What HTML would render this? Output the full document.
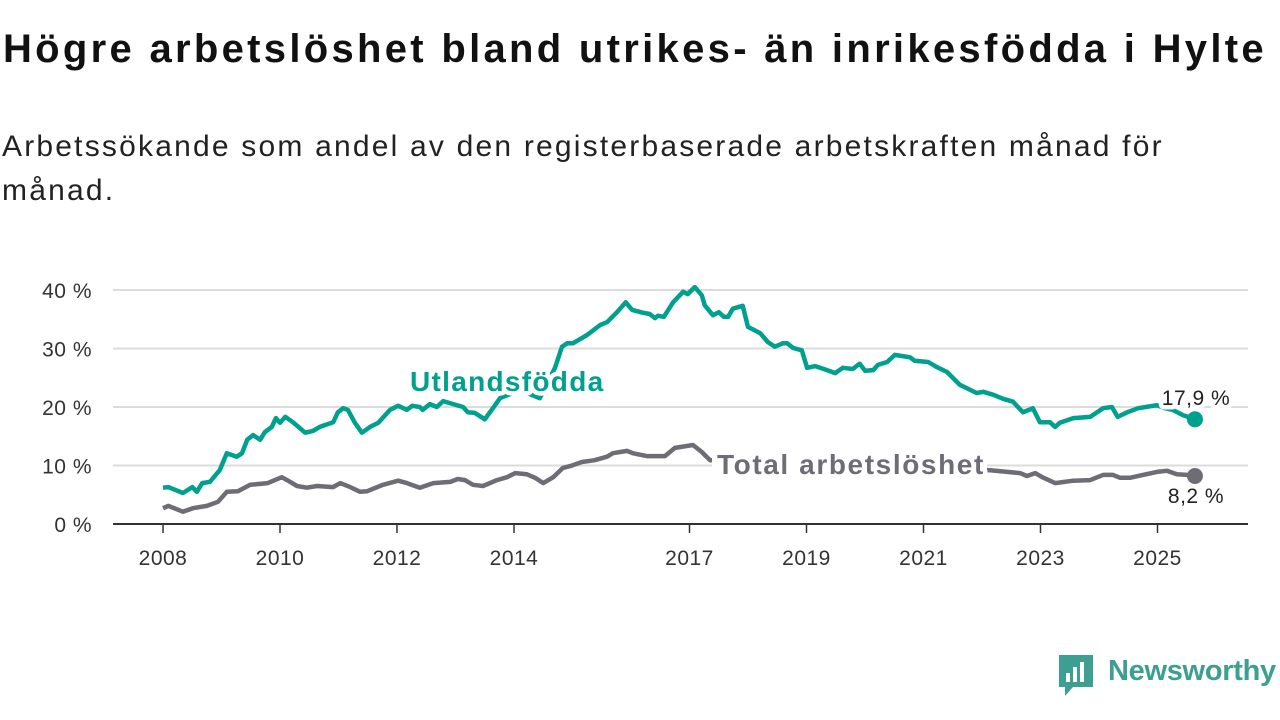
<!DOCTYPE html>
<html><head><meta charset="utf-8">
<style>
html,body{margin:0;padding:0;background:#fff;width:1280px;height:720px;overflow:hidden;font-family:"Liberation Sans",sans-serif;}
#title{position:absolute;left:3px;top:27px;font-size:40px;font-weight:bold;color:#111;letter-spacing:3.3px;margin:0;white-space:nowrap}
#subtitle{position:absolute;left:2px;top:125px;font-size:30px;line-height:44px;letter-spacing:2.2px;color:#222;width:1200px;margin:0}
svg{position:absolute;left:0;top:0}
</style></head><body>
<h1 id="title">Högre arbetslöshet bland utrikes- än inrikesfödda i Hylte</h1>
<p id="subtitle">Arbetssökande som andel av den registerbaserade arbetskraften månad för månad.</p>
<svg id="chart" width="1280" height="720"></svg>
<script>
const yTicks=[0,10,20,30,40];
const yTickLabels=["0 %","10 %","20 %","30 %","40 %"];
const xTicks=[2008,2010,2012,2014,2017,2019,2021,2023,2025];
const xTickLabels=["2008","2010","2012","2014","2017","2019","2021","2023","2025"];
const foreignDates=[2008.00,2008.09,2008.34,2008.50,2008.58,2008.67,2008.80,2008.97,2009.09,2009.26,2009.35,2009.44,2009.54,2009.66,2009.74,2009.86,2009.93,2010.00,2010.09,2010.22,2010.43,2010.56,2010.68,2010.91,2010.99,2011.08,2011.16,2011.28,2011.40,2011.54,2011.68,2011.88,2012.02,2012.17,2012.26,2012.39,2012.44,2012.56,2012.68,2012.79,2012.96,2013.13,2013.21,2013.33,2013.50,2013.64,2013.76,2014.10,2014.44,2014.70,2014.82,2014.91,2015.01,2015.25,2015.47,2015.59,2015.76,2015.91,2016.02,2016.21,2016.32,2016.41,2016.46,2016.56,2016.72,2016.89,2016.97,2017.09,2017.21,2017.26,2017.40,2017.50,2017.59,2017.66,2017.74,2017.91,2018.00,2018.21,2018.34,2018.46,2018.60,2018.67,2018.77,2018.92,2019.01,2019.15,2019.35,2019.49,2019.62,2019.79,2019.91,2020.00,2020.14,2020.22,2020.38,2020.51,2020.77,2020.85,2021.08,2021.23,2021.40,2021.62,2021.91,2022.02,2022.19,2022.36,2022.53,2022.70,2022.87,2022.99,2023.16,2023.25,2023.33,2023.56,2023.85,2024.07,2024.22,2024.32,2024.48,2024.67,2024.99,2025.13,2025.26,2025.44,2025.64];
const foreignValues=[6.2,6.3,5.3,6.3,5.5,7.0,7.2,9.2,12.1,11.5,12.1,14.4,15.2,14.4,15.7,16.6,18.1,17.3,18.3,17.4,15.6,15.9,16.6,17.4,19.1,19.8,19.5,17.3,15.6,16.6,17.3,19.5,20.2,19.5,20.2,20.0,19.5,20.5,20.0,21.0,20.5,20.0,19.1,19.0,17.9,19.8,21.5,22.9,21.5,26.7,30.3,30.9,30.9,32.3,34.0,34.5,36.2,37.9,36.6,36.1,35.9,35.2,35.6,35.4,37.9,39.7,39.3,40.5,39.1,37.4,35.7,36.2,35.4,35.4,36.8,37.3,33.7,32.6,31.1,30.3,30.9,30.9,30.1,29.7,26.7,27.0,26.3,25.8,26.7,26.5,27.4,26.2,26.3,27.2,27.7,28.9,28.5,27.9,27.7,26.8,26.0,23.8,22.4,22.6,22.1,21.4,20.9,19.1,19.8,17.4,17.4,16.6,17.3,18.1,18.3,19.8,20.0,18.3,19.1,19.8,20.3,19.8,19.5,18.6,17.9];
const totalDates=[2008.00,2008.09,2008.34,2008.51,2008.75,2008.94,2009.09,2009.28,2009.49,2009.79,2010.03,2010.12,2010.29,2010.46,2010.63,2010.91,2011.03,2011.20,2011.37,2011.49,2011.76,2012.02,2012.17,2012.39,2012.62,2012.91,2013.04,2013.16,2013.30,2013.47,2013.71,2013.88,2014.02,2014.22,2014.36,2014.50,2014.67,2014.84,2014.96,2015.16,2015.38,2015.59,2015.69,2015.93,2016.03,2016.27,2016.58,2016.75,2017.06,2017.21,2017.35,2018.00,2019.00,2020.00,2020.60,2021.30,2022.14,2022.43,2022.65,2022.77,2022.91,2023.03,2023.25,2023.56,2023.85,2024.07,2024.24,2024.36,2024.53,2024.99,2025.16,2025.33,2025.50,2025.64];
const totalValues=[2.7,3.1,2.1,2.7,3.1,3.8,5.5,5.6,6.7,7.0,8.0,7.5,6.5,6.2,6.5,6.3,7.0,6.3,5.5,5.6,6.7,7.4,7.0,6.2,7.0,7.2,7.7,7.5,6.7,6.5,7.5,8.0,8.7,8.5,7.9,7.0,8.0,9.6,9.9,10.6,10.9,11.5,12.1,12.5,12.1,11.6,11.6,13.0,13.5,12.3,10.9,11.0,9.5,9.0,10.0,9.5,9.2,8.9,8.7,8.2,8.7,8.0,7.0,7.4,7.5,8.4,8.4,7.9,7.9,8.9,9.1,8.5,8.4,8.2];

const NS='http://www.w3.org/2000/svg';
const svg=document.getElementById('chart');
const X0=113,X1=1248,Y0=524;
const xs=y=>163+(y-2008)*58.5;
const ys=v=>Y0-v*5.85;
function mk(tag,attrs,parent){const e=document.createElementNS(NS,tag);for(const k in attrs)e.setAttribute(k,attrs[k]);(parent||svg).appendChild(e);return e;}

yTicks.forEach((t,i)=>{
  if(t>0){const g=mk('line',{x1:X0,x2:X1,y1:ys(t),y2:ys(t),stroke:'#dcdcdc','stroke-width':2});
  
  }
  const tx=mk('text',{x:92,y:ys(t)+8,'text-anchor':'end','font-size':21,fill:'#333','letter-spacing':0.5});
  tx.textContent=yTickLabels[i];
  
  
});
xTicks.forEach((t,i)=>{
  const tk=mk('line',{x1:xs(t),x2:xs(t),y1:Y0,y2:Y0+9,stroke:'#333','stroke-width':1.5});
  
  
  const tx=mk('text',{x:xs(t),y:565,'text-anchor':'middle','font-size':21,fill:'#333','letter-spacing':0.5});
  tx.textContent=xTickLabels[i];
  
  
});
const ax=mk('line',{x1:X0,x2:X1,y1:Y0,y2:Y0,stroke:'#333','stroke-width':2});



function series(dates,vals,color,name){
  const d=dates.map((t,i)=>(i?'L':'M')+xs(t).toFixed(1)+','+ys(vals[i]).toFixed(1)).join('');
  const p=mk('path',{d:d,fill:'none',stroke:color,'stroke-width':4.5,'stroke-linejoin':'round'});
  
  
  const n=dates.length-1;
  const c=mk('circle',{cx:xs(dates[n]),cy:ys(vals[n]),r:8,fill:color});
  
  
}
series(totalDates,totalValues,'#6e6d75','total');
series(foreignDates,foreignValues,'#00a08f','foreign-born');

function label(x,y,txt,color,size,weight,name,anchor,ls){
  const t=mk('text',{x:x,y:y,'font-size':size,'font-weight':weight,fill:color,stroke:'#fff','stroke-width':9,'paint-order':'stroke','stroke-linejoin':'round','text-anchor':anchor||'start','letter-spacing':ls||0});
  t.textContent=txt;
  
  
}
const bg=mk('rect',{x:712,y:446,width:275,height:36,fill:'#fff'});


label(410,391,'Utlandsfödda','#00a08f',28,'bold','foreign-born-label','start',1.3);
label(717,474,'Total arbetslöshet','#6e6d75',28,'bold','total-label','start',1.6);
label(1196,405,'17,9 %','#222',21,'normal','foreign-born-value-label','middle',0.5);
label(1196,503,'8,2 %','#222',21,'normal','total-value-label','middle',0.5);
</script>
<div style="position:absolute;left:1059px;top:655px;">
  <svg width="34" height="42" viewBox="0 0 34 42" style="position:relative">
    <path d="M0 0H34V32H14L6 41V32H0Z" fill="#3d9e92"/>
    <rect x="7" y="18" width="4" height="9" fill="#fff"/><rect x="14" y="12" width="4" height="15" fill="#fff"/><rect x="21" y="7" width="4" height="20" fill="#fff"/>
  </svg>
  <span style="position:absolute;left:49px;top:0px;font-size:29px;font-weight:bold;color:#3d9e92;white-space:nowrap;letter-spacing:-0.3px;">Newsworthy</span>
</div>
</body></html>
